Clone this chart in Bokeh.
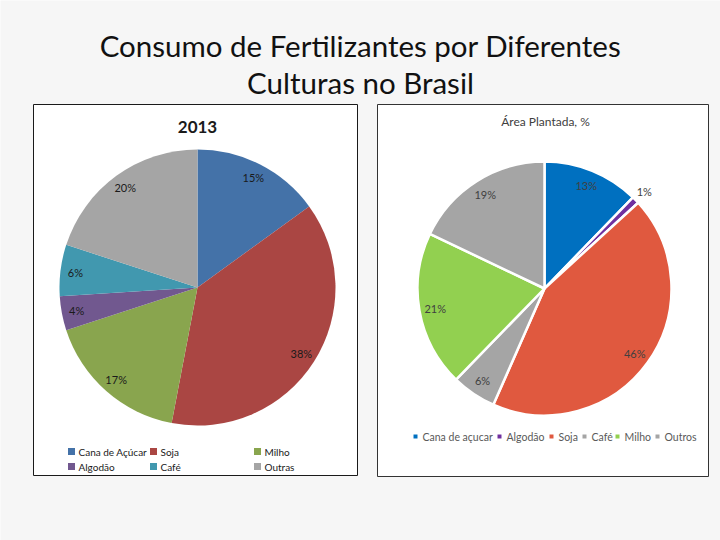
import math
from bokeh.plotting import figure
from bokeh.models import Range1d
from bokeh.core.properties import value
from bokeh.embed import file_html
from bokeh.resources import INLINE

# dados
titulo = ["Consumo de Fertilizantes por Diferentes", "Culturas no Brasil"]

titulo_2013 = "2013"
culturas_2013 = ["Cana de Açúcar", "Soja", "Milho", "Algodão", "Café", "Outras"]
valores_2013 = [15, 38, 17, 4, 6, 20]
cores_2013 = ["#4472A8", "#AA4643", "#89A54E", "#71588F", "#4198AF", "#A5A5A5"]

titulo_area = "Área Plantada, %"
culturas_area = ["Cana de açucar", "Algodão", "Soja", "Café", "Milho", "Outros"]
valores_area = [13, 1, 46, 6, 21, 19]
cores_area = ["#0070C0", "#7030A0", "#E0593F", "#A5A5A5", "#92D050", "#A5A5A5"]

FONTE = "Lato"
W, H = 720, 540


def Y(v):
    # posicoes pensadas de cima para baixo
    return H - v


p = figure(width=W, height=H, output_backend="svg", toolbar_location=None,
           x_range=Range1d(0, W), y_range=Range1d(0, H), min_border=0)
p.axis.visible = False
p.grid.visible = False
p.outline_line_color = None
p.background_fill_color = "#f6f6f6"
p.border_fill_color = "#f6f6f6"

# titulo principal
p.text(x=[360, 360], y=[Y(45), Y(82)], text=titulo, text_align="center", text_baseline="middle",
       text_font=value(FONTE), text_font_size="29.5px", text_color="#111111")

# molduras dos dois graficos
p.quad(left=[33, 377], right=[357, 708], top=[Y(104), Y(104)], bottom=[Y(475), Y(476)],
       fill_color="white", line_color=["#1a1a1a", "#333333"], line_width=1)


def pizza(cx, cy, raio, valores, cores, cor_linha, largura_linha, r_rotulo, cor_rotulo):
    total = sum(valores)
    ini, fim, xs, ys, rot = [], [], [], [], []
    acum = 0
    for v in valores:
        a0 = math.pi / 2 - 2 * math.pi * acum / total
        acum += v
        a1 = math.pi / 2 - 2 * math.pi * acum / total
        ini.append(a0)
        fim.append(a1)
        meio = (a0 + a1) / 2
        rr = r_rotulo if v / total > 0.03 else raio * 1.095
        xs.append(cx + rr * math.cos(meio))
        ys.append(cy + rr * math.sin(meio))
        rot.append(f"{v}%")
    p.wedge(x=cx, y=cy, radius=raio, start_angle=ini, end_angle=fim, direction="clock",
            fill_color=cores, line_color=cor_linha, line_width=largura_linha)
    p.text(x=xs, y=ys, text=rot, text_align="center", text_baseline="middle",
           text_font=value(FONTE), text_font_size="11px", text_color=cor_rotulo)


# grafico 2013
p.text(x=[197], y=[Y(126)], text=[titulo_2013], text_align="center", text_baseline="middle",
       text_font=value(FONTE), text_font_size="17px", text_font_style="bold", text_color="#1a1a1a")
pizza(197, Y(287), 138, valores_2013, cores_2013, None, 0, 123, "#1a1a1a")

# legenda 2013 (3 colunas, 2 linhas)
col_x = [71, 153, 257]
lin_y = [451, 466]
lx = [col_x[i % 3] for i in range(len(culturas_2013))]
ly = [Y(lin_y[i // 3]) for i in range(len(culturas_2013))]
p.scatter(x=lx, y=ly, marker="square", size=7, fill_color=cores_2013, line_color=None)
p.text(x=[v + 7 for v in lx], y=ly, text=culturas_2013, text_align="left", text_baseline="middle",
       text_font=value(FONTE), text_font_size="10px", text_color="#1a1a1a")

# grafico area plantada
p.text(x=[545], y=[Y(121)], text=[titulo_area], text_align="center", text_baseline="middle",
       text_font=value(FONTE), text_font_size="12px", text_color="#404040")
pizza(544, Y(288), 127, valores_area, cores_area, "white", 2.5, 111, "#404040")

# legenda area plantada (uma linha)
leg_x = [415, 499, 551, 584, 617, 657]
p.scatter(x=leg_x, y=[Y(436)] * 6, marker="square", size=4, fill_color=cores_area, line_color=None)
p.text(x=[v + 7 for v in leg_x], y=[Y(436)] * 6, text=culturas_area, text_align="left",
       text_baseline="middle", text_font=value(FONTE), text_font_size="10.5px", text_color="#595959")

open("out.html", "w").write(file_html(p, INLINE))
